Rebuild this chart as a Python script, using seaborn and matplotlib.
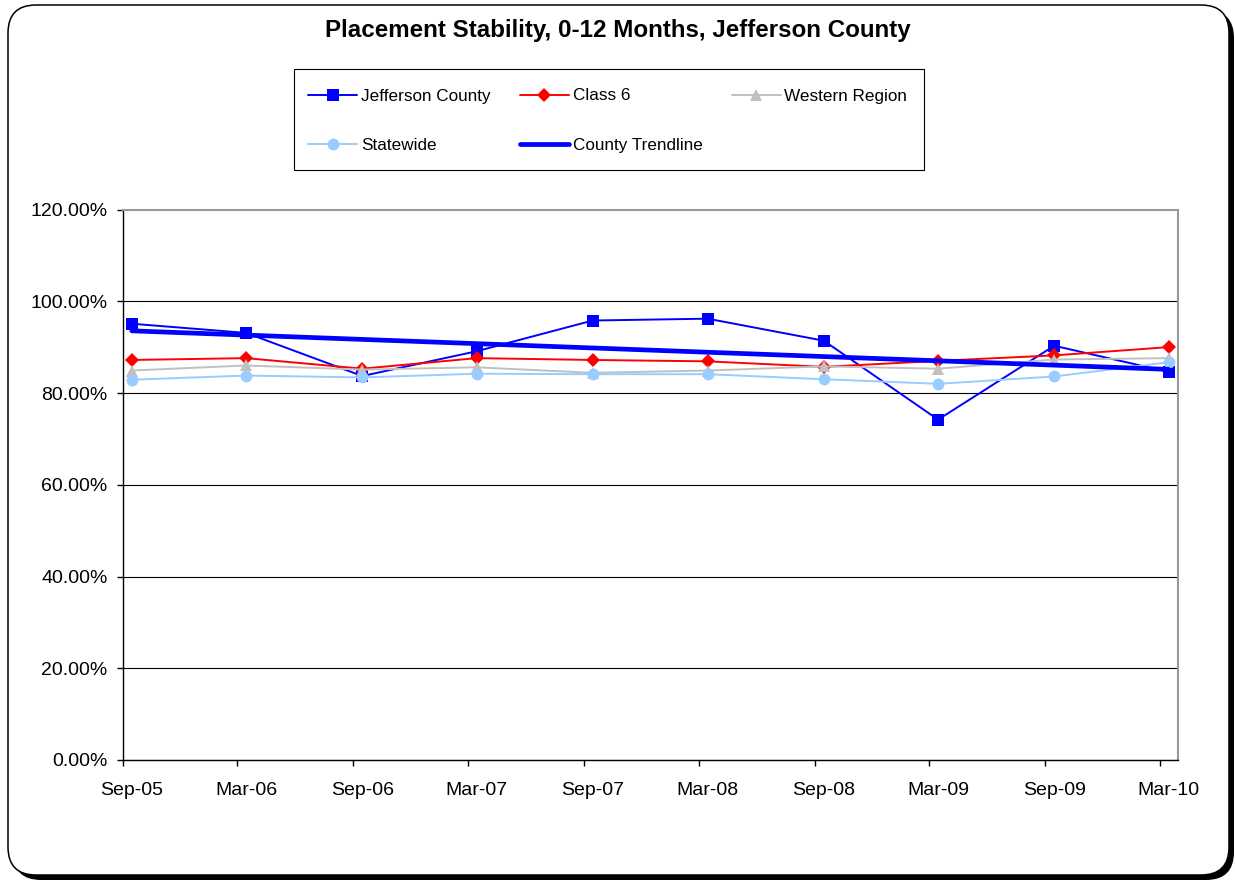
import numpy as np
import pandas as pd
import matplotlib
matplotlib.use("Agg")
import matplotlib.pyplot as plt
import matplotlib.dates as mdates
from matplotlib.patches import FancyBboxPatch, Rectangle
from matplotlib.transforms import Affine2D
from matplotlib.ticker import FuncFormatter, FixedLocator, FixedFormatter, NullFormatter
import seaborn as sns

# Reporting periods (tick labels) and placement-stability rates, in percent
periods = ["Sep-05", "Mar-06", "Sep-06", "Mar-07", "Sep-07",
           "Mar-08", "Sep-08", "Mar-09", "Sep-09", "Mar-10"]
jefferson = [95.1, 93.1, 83.7, 89.1, 95.8, 96.2, 91.4, 74.2, 90.3, 84.6]
class6 = [87.2, 87.6, 85.3, 87.6, 87.2, 86.9, 85.7, 87.0, 88.2, 90.0]
western = [84.9, 86.0, 85.1, 85.6, 84.4, 84.9, 85.8, 85.3, 87.3, 87.6]
statewide = [82.9, 83.8, 83.4, 84.2, 84.1, 84.1, 83.0, 82.0, 83.6, 86.7]

title = "Placement Stability, 0-12 Months, Jefferson County"

sns.set_style("white")
plt.rcParams["font.family"] = ["Liberation Sans", "DejaVu Sans"]
plt.rcParams["text.color"] = "black"
plt.rcParams["xtick.color"] = "black"
plt.rcParams["ytick.color"] = "black"

W, H = 1235, 882
fig = plt.figure(figsize=(W / 100, H / 100), dpi=100)
fig.patch.set_facecolor("white")
pix = Affine2D().scale(1 / W, 1 / H) + fig.transFigure  # pixel coordinates


def top(y):
    return H - y


# rounded chart-area frame with a drop shadow
shadow = FancyBboxPatch((13, top(880)), 1221, 870,
                        boxstyle="round,pad=0,rounding_size=28",
                        transform=pix, facecolor="black", edgecolor="black",
                        lw=0, zorder=-3)
frame = FancyBboxPatch((8, top(875)), 1221, 870,
                       boxstyle="round,pad=0,rounding_size=28",
                       transform=pix, facecolor="white", edgecolor="black",
                       lw=1.1, zorder=-2)
fig.add_artist(shadow)
fig.add_artist(frame)

ax = fig.add_axes([123 / W, top(760) / H, (1178 - 123) / W, (760 - 209.5) / H])
ax.set_facecolor("white")

dates = pd.to_datetime(periods, format="%b-%y")
tick_x = mdates.date2num(dates)
x = mdates.date2num(dates + pd.Timedelta(days=14))

series = [
    ("Jefferson County", jefferson, "#0000FF", "s", 8.5, 2),
    ("Class 6", class6, "#FF0000", "D", 7.2, 3),
    ("Western Region", western, "#C0C0C0", "^", 9.0, 4),
    ("Statewide", statewide, "#99CCFF", "o", 8.5, 5),
]
for label, vals, color, marker, ms, z in series:
    sns.lineplot(x=x, y=vals, ax=ax, color=color, marker=marker,
                 markersize=ms, markeredgewidth=0, lw=1.4, label=label,
                 zorder=z)

sns.regplot(x=x, y=np.array(jefferson), ax=ax, scatter=False, ci=None,
            truncate=True, color="#0000FF", label="County Trendline",
            line_kws={"lw": 3.4, "zorder": 6})

if ax.get_legend() is not None:
    ax.get_legend().remove()
ax.set_xlabel("")
ax.set_ylabel("")

ax.set_ylim(0, 120)
ax.set_yticks(range(0, 121, 20))
ax.yaxis.set_major_formatter(FuncFormatter(lambda v, _: f"{v:.2f}%"))
ax.set_xlim(tick_x[0], mdates.date2num(pd.Timestamp("2010-03-30")))
# tick marks at the start of each period, labels under the data points
ax.xaxis.set_major_locator(FixedLocator(tick_x))
ax.xaxis.set_major_formatter(NullFormatter())
ax.xaxis.set_minor_locator(FixedLocator(x))
ax.xaxis.set_minor_formatter(FixedFormatter(periods))

ax.grid(axis="y", color="black", lw=0.8)
ax.grid(axis="x", visible=False)
ax.set_axisbelow(True)
ax.yaxis.get_gridlines()[-1].set_visible(False)

ax.tick_params(axis="both", which="major", direction="out", length=4,
               width=1, color="black", labelsize=14, left=True, bottom=True)
ax.tick_params(axis="x", which="minor", length=0, labelsize=14, pad=16,
               bottom=True)
ax.tick_params(axis="y", pad=7)

for side in ("left", "bottom"):
    ax.spines[side].set_color("black")
    ax.spines[side].set_linewidth(1.0)
for side in ("top", "right"):
    ax.spines[side].set_color("#999999")
    ax.spines[side].set_linewidth(1.5)

fig.text(617.5 / W, top(31) / H, title, ha="center", va="center",
         fontsize=17.4, fontweight="bold")

# legend: entries laid out row by row in three columns
handles, labels = ax.get_legend_handles_labels()
hmap = dict(zip(labels, handles))
order = ["Jefferson County", "Statewide", "Class 6", "County Trendline",
         "Western Region"]
fig.legend([hmap[k] for k in order], order, ncol=3, loc="upper left",
           bbox_to_anchor=(308, top(88.5)), bbox_transform=pix,
           frameon=False, fontsize=12.3, borderpad=0, borderaxespad=0,
           handlelength=2.87, handletextpad=0.23, columnspacing=1.7,
           labelspacing=2.01)
fig.add_artist(Rectangle((294, top(170)), 630, 101, transform=pix,
                         fill=False, edgecolor="black", lw=0.8))

fig.savefig("out.png", dpi=100, facecolor="white")
